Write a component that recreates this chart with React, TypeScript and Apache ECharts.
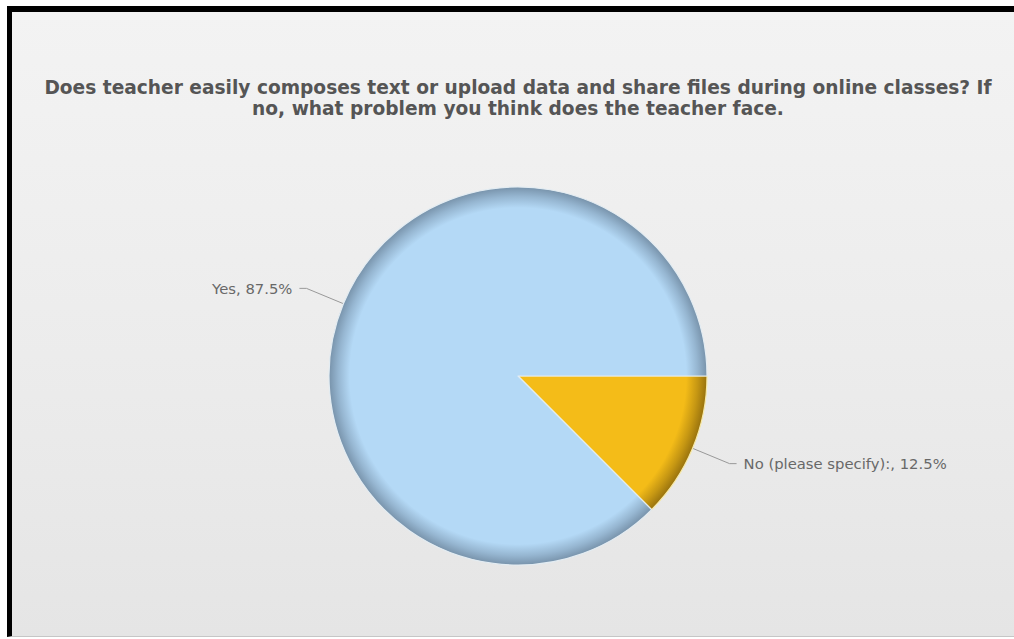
import React, { useEffect, useRef } from "react";
import * as echarts from "echarts";

const titleLines = [
  "Does teacher easily composes text or upload data and share files during online classes? If",
  "no, what problem you think does the teacher face.",
];
const categories = ["No (please specify):", "Yes"];
const percents = [12.5, 87.5];
const baseColors = ["#f4bc18", "#b4d9f6"];
const rimColors = ["#98720e", "#7893ab"];
const edgeColors = ["#f7e9a8", "#e3ecf2"];

const CHART_W = 1002;
const CHART_H = 624;
const CX = 506;
const CY = 364;
const R = 189;

export default function App() {
  const ref = useRef<HTMLDivElement>(null);
  useEffect(() => {
    if (!ref.current) return;
    const chart = echarts.init(ref.current, undefined, { renderer: "svg" });
    const data = categories.map((name, i) => ({
      name,
      value: percents[i],
      itemStyle: {
        color: {
          type: "radial",
          x: CX,
          y: CY,
          r: R,
          global: true,
          colorStops: [
            { offset: 0, color: baseColors[i] },
            { offset: 0.89, color: baseColors[i] },
            { offset: 0.95, color: echarts.color.lerp(0.5, [baseColors[i], rimColors[i]]) },
            { offset: 1, color: rimColors[i] },
          ],
        },
        borderColor: edgeColors[i],
        borderWidth: 1.2,
      },
    }));
    chart.setOption({
      animation: false,
      title: {
        text: titleLines.join("\n"),
        left: CX,
        top: 65,
        padding: 0,
        textAlign: "center",
        textStyle: {
          fontFamily: "DejaVu Sans",
          fontWeight: "bold",
          fontSize: 18.6,
          color: "#555555",
          lineHeight: 21,
        },
      },
      series: [
        {
          type: "pie",
          center: [CX, CY],
          radius: [0, R],
          startAngle: 0,
          clockwise: true,
          avoidLabelOverlap: false,
          data,
          label: {
            show: true,
            formatter: (p: any) => `${p.name}, ${p.value}%`,
            fontFamily: "DejaVu Sans",
            fontSize: 14.8,
            color: "#686868",
            distanceToLabelLine: 7,
          },
          labelLine: {
            show: true,
            length: 40,
            length2: 7,
            lineStyle: { color: "#999999", width: 1 },
          },
          emphasis: { disabled: true },
        },
      ],
    });
    return () => chart.dispose();
  }, []);
  return (
    <div
      style={{
        position: "absolute",
        left: 0,
        top: 0,
        width: 1014,
        height: 639,
        background: "#ffffff",
        overflow: "hidden",
      }}
    >
      <div
        style={{
          position: "absolute",
          left: 7,
          top: 6,
          width: 1014,
          height: 631,
          boxSizing: "border-box",
          borderTop: "6px solid #000",
          borderLeft: "5px solid #000",
          borderBottom: "1px solid #c6c6c6",
          background: "linear-gradient(to bottom, #f3f3f3 0%, #ececec 55%, #e5e5e5 100%)",
        }}
      >
        <div ref={ref} style={{ width: CHART_W, height: CHART_H }} />
      </div>
    </div>
  );
}
